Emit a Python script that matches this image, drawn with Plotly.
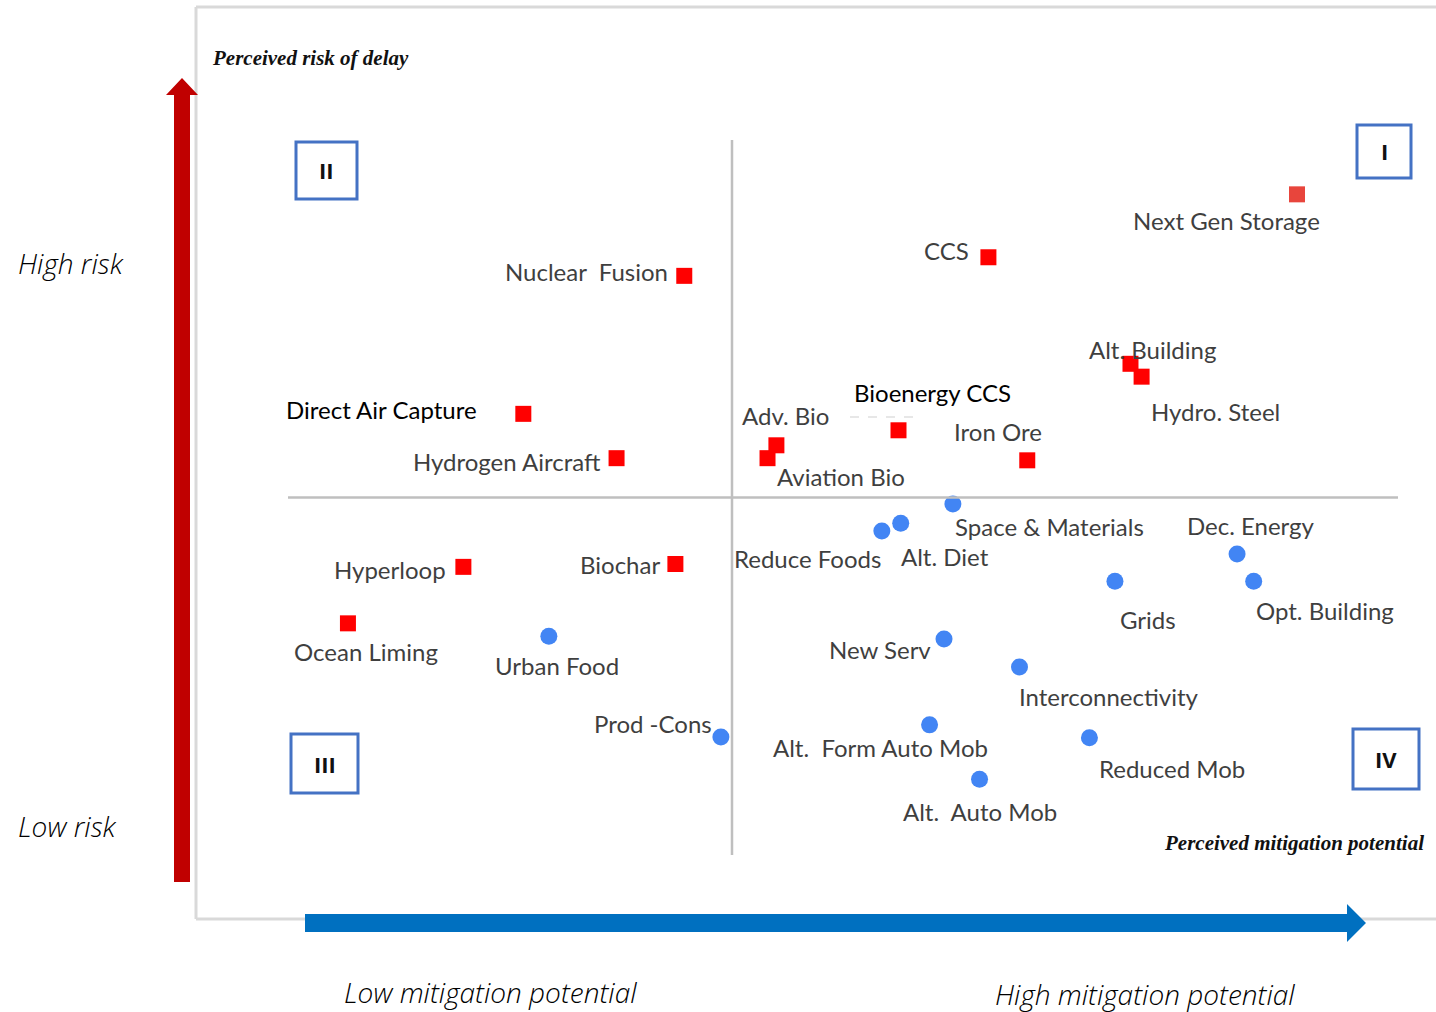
import plotly.graph_objects as go

W, H = 1436, 1012

# ---------------- data (scores) ----------------
# Perceived mitigation potential (x) and perceived risk of delay (y), 0-10 scales
red_names = ["Next Gen Storage", "CCS", "Nuclear  Fusion", "Alt. Building", "Hydro. Steel",
             "Direct Air Capture", "Bioenergy CCS", "Adv. Bio", "Aviation Bio", "Iron Ore",
             "Hydrogen Aircraft", "Hyperloop", "Biochar", "Ocean Liming"]
red_x = [9.09, 6.31, 3.57, 7.59, 7.69, 2.12, 5.50, 4.40, 4.32, 6.66, 2.96, 1.58, 3.49, 0.54]
red_y = [9.24, 8.36, 8.10, 6.87, 6.69, 6.17, 5.94, 5.73, 5.55, 5.52, 5.55, 4.03, 4.07, 3.24]

blue_names = ["Space & Materials", "Alt. Diet", "Reduce Foods", "Dec. Energy", "Opt. Building",
              "Grids", "Urban Food", "New Serv", "Interconnectivity", "Prod -Cons",
              "Alt.  Form Auto Mob", "Reduced Mob", "Alt.  Auto Mob"]
blue_x = [5.99, 5.52, 5.35, 8.55, 8.70, 7.45, 2.35, 5.91, 6.59, 3.90, 5.78, 7.22, 6.23]
blue_y = [4.91, 4.64, 4.53, 4.21, 3.83, 3.83, 3.06, 3.02, 2.63, 1.65, 1.82, 1.64, 1.06]

quadrant_names = ["I", "II", "III", "IV"]

# ---------------- layout helpers ----------------
# axis scale: x score = (px - 288)/111 ; y score = (855 - py)/71.5
XR = [(0 - 288) / 111, (W - 288) / 111]
YR = [(855 - H) / 71.5, (855 - 0) / 71.5]
X_MID, Y_MID = 4.0, 5.0


def fx(p):
    return p / W


def fy(p):
    return 1 - p / H


# label offsets in pixels (dx right, dy down) relative to the marker
red_off = {
    "Next Gen Storage": (-70, 26), "CCS": (-42, -7), "Nuclear  Fusion": (-98, -4),
    "Alt. Building": (22, -14), "Hydro. Steel": (74, 35), "Direct Air Capture": (-142, -4),
    "Bioenergy CCS": (34, -38), "Adv. Bio": (9, -30), "Aviation Bio": (73, 18),
    "Iron Ore": (-29, -29), "Hydrogen Aircraft": (-110, 3), "Hyperloop": (-73, 3),
    "Biochar": (-55, 0), "Ocean Liming": (18, 28),
}
blue_off = {
    "Space & Materials": (97, 23), "Alt. Diet": (44, 33), "Reduce Foods": (-74, 27),
    "Dec. Energy": (14, -28), "Opt. Building": (71, 29), "Grids": (33, 38),
    "Urban Food": (8, 29), "New Serv": (-64, 10), "Interconnectivity": (90, 30),
    "Prod -Cons": (-68, -14), "Alt.  Form Auto Mob": (-49, 23), "Reduced Mob": (83, 31),
    "Alt.  Auto Mob": (0, 32),
}
black_labels = {"Direct Air Capture", "Bioenergy CCS"}

LABEL_FONT = "Lato"

fig = go.Figure()

red_colors = ["#e8453c"] + ["#ff0000"] * (len(red_names) - 1)
fig.add_trace(go.Scatter(
    x=red_x, y=red_y, mode="markers", name="High risk",
    marker=dict(symbol="square", size=16, color=red_colors, line=dict(width=0)),
    hovertext=red_names, hoverinfo="text", showlegend=False))
fig.add_trace(go.Scatter(
    x=blue_x, y=blue_y, mode="markers", name="Low risk",
    marker=dict(symbol="circle", size=17, color="#4285f4", line=dict(width=0)),
    hovertext=blue_names, hoverinfo="text", showlegend=False))

annotations = []
for names, xs, ys, offs in [(red_names, red_x, red_y, red_off), (blue_names, blue_x, blue_y, blue_off)]:
    for n, xv, yv in zip(names, xs, ys):
        dx, dy = offs[n]
        col = "#000000" if n in black_labels else "#3f3f3f"
        annotations.append(dict(
            x=xv, y=yv, xref="x", yref="y", text=n, showarrow=False,
            xshift=dx, yshift=-dy, xanchor="center", yanchor="middle",
            font=dict(family=LABEL_FONT, size=24, color=col)))

shapes = []
# outer frame (light grey)
frame = dict(type="line", xref="paper", yref="paper", line=dict(color="#d9d9d9", width=3))
shapes.append(dict(frame, x0=fx(196), x1=fx(1436), y0=fy(7), y1=fy(7)))
shapes.append(dict(frame, x0=fx(196), x1=fx(196), y0=fy(7), y1=fy(919)))
shapes.append(dict(frame, x0=fx(196), x1=fx(1436), y0=fy(919), y1=fy(919)))

# quadrant dividers in data coordinates
qline = dict(type="line", xref="x", yref="y", line=dict(color="#bfbfbf", width=2.5))
shapes.append(dict(qline, x0=X_MID, x1=X_MID, y0=0, y1=10))
shapes.append(dict(qline, x0=0, x1=10, y0=Y_MID, y1=Y_MID))

# faint dashed underline under "Bioenergy CCS"
shapes.append(dict(type="line", xref="paper", yref="paper", x0=fx(850), x1=fx(916),
                   y0=fy(417), y1=fy(417), line=dict(color="#cfcfcf", width=1.2, dash="dash")))

# quadrant boxes
qboxes = {"I": (1357, 125, 1411, 178), "II": (296, 142, 357, 199),
          "III": (291, 734, 358, 793), "IV": (1353, 729, 1419, 789)}
for q in quadrant_names:
    x0, y0, x1, y1 = qboxes[q]
    shapes.append(dict(type="rect", xref="paper", yref="paper",
                       x0=fx(x0), x1=fx(x1), y0=fy(y0), y1=fy(y1),
                       line=dict(color="#4472c4", width=3), fillcolor="rgba(0,0,0,0)"))
    annotations.append(dict(x=fx((x0 + x1) / 2), y=fy((y0 + y1) / 2), xref="paper", yref="paper",
                            text="<b>%s</b>" % q, showarrow=False, xanchor="center", yanchor="middle",
                            font=dict(family="Open Sans", size=22, color="#111111")))


def path(points):
    return "M " + " L ".join("%f,%f" % (fx(a), fy(b)) for a, b in points) + " Z"


# red vertical arrow (risk)
shapes.append(dict(type="path", xref="paper", yref="paper",
                   path=path([(174, 882), (190, 882), (190, 95), (198, 95), (182, 78),
                              (166, 95), (174, 95)]),
                   fillcolor="#c00000", line=dict(width=0)))
# blue horizontal arrow (mitigation)
shapes.append(dict(type="path", xref="paper", yref="paper",
                   path=path([(305, 914), (1347, 914), (1347, 904), (1366, 923),
                              (1347, 942), (1347, 932), (305, 932)]),
                   fillcolor="#0070c0", line=dict(width=0)))

# axis titles / descriptors
serif = "Liberation Serif"
annotations.append(dict(x=fx(210), y=fy(58), xref="paper", yref="paper",
                        text="<b><i>Perceived risk of delay</i></b>", showarrow=False,
                        xanchor="left", yanchor="middle",
                        font=dict(family=serif, size=21, color="#111111")))
annotations.append(dict(x=fx(1426), y=fy(843), xref="paper", yref="paper",
                        text="<b><i>Perceived mitigation potential</i></b>", showarrow=False,
                        xanchor="right", yanchor="middle",
                        font=dict(family=serif, size=21, color="#111111")))

side_font = dict(family="Open Sans", size=28, color="#000000", weight=300)
for txt, x, y, anc in [("High risk", 16, 263, "left"), ("Low risk", 16, 826, "left"),
                       ("Low mitigation potential", 490, 992, "center"),
                       ("High mitigation potential", 1145, 994, "center")]:
    annotations.append(dict(x=fx(x), y=fy(y), xref="paper", yref="paper",
                            text="<i>%s</i>" % txt, showarrow=False,
                            xanchor=anc, yanchor="middle", font=side_font))

fig.update_layout(
    width=W, height=H, margin=dict(l=0, r=0, t=0, b=0),
    paper_bgcolor="white", plot_bgcolor="white",
    xaxis=dict(range=XR, visible=False, fixedrange=True),
    yaxis=dict(range=YR, visible=False, fixedrange=True),
    shapes=shapes, annotations=annotations, showlegend=False,
)

fig.write_html("out.html", config={"displayModeBar": False},
               post_script="document.body.style.margin='0px';document.body.style.overflow='hidden';")
